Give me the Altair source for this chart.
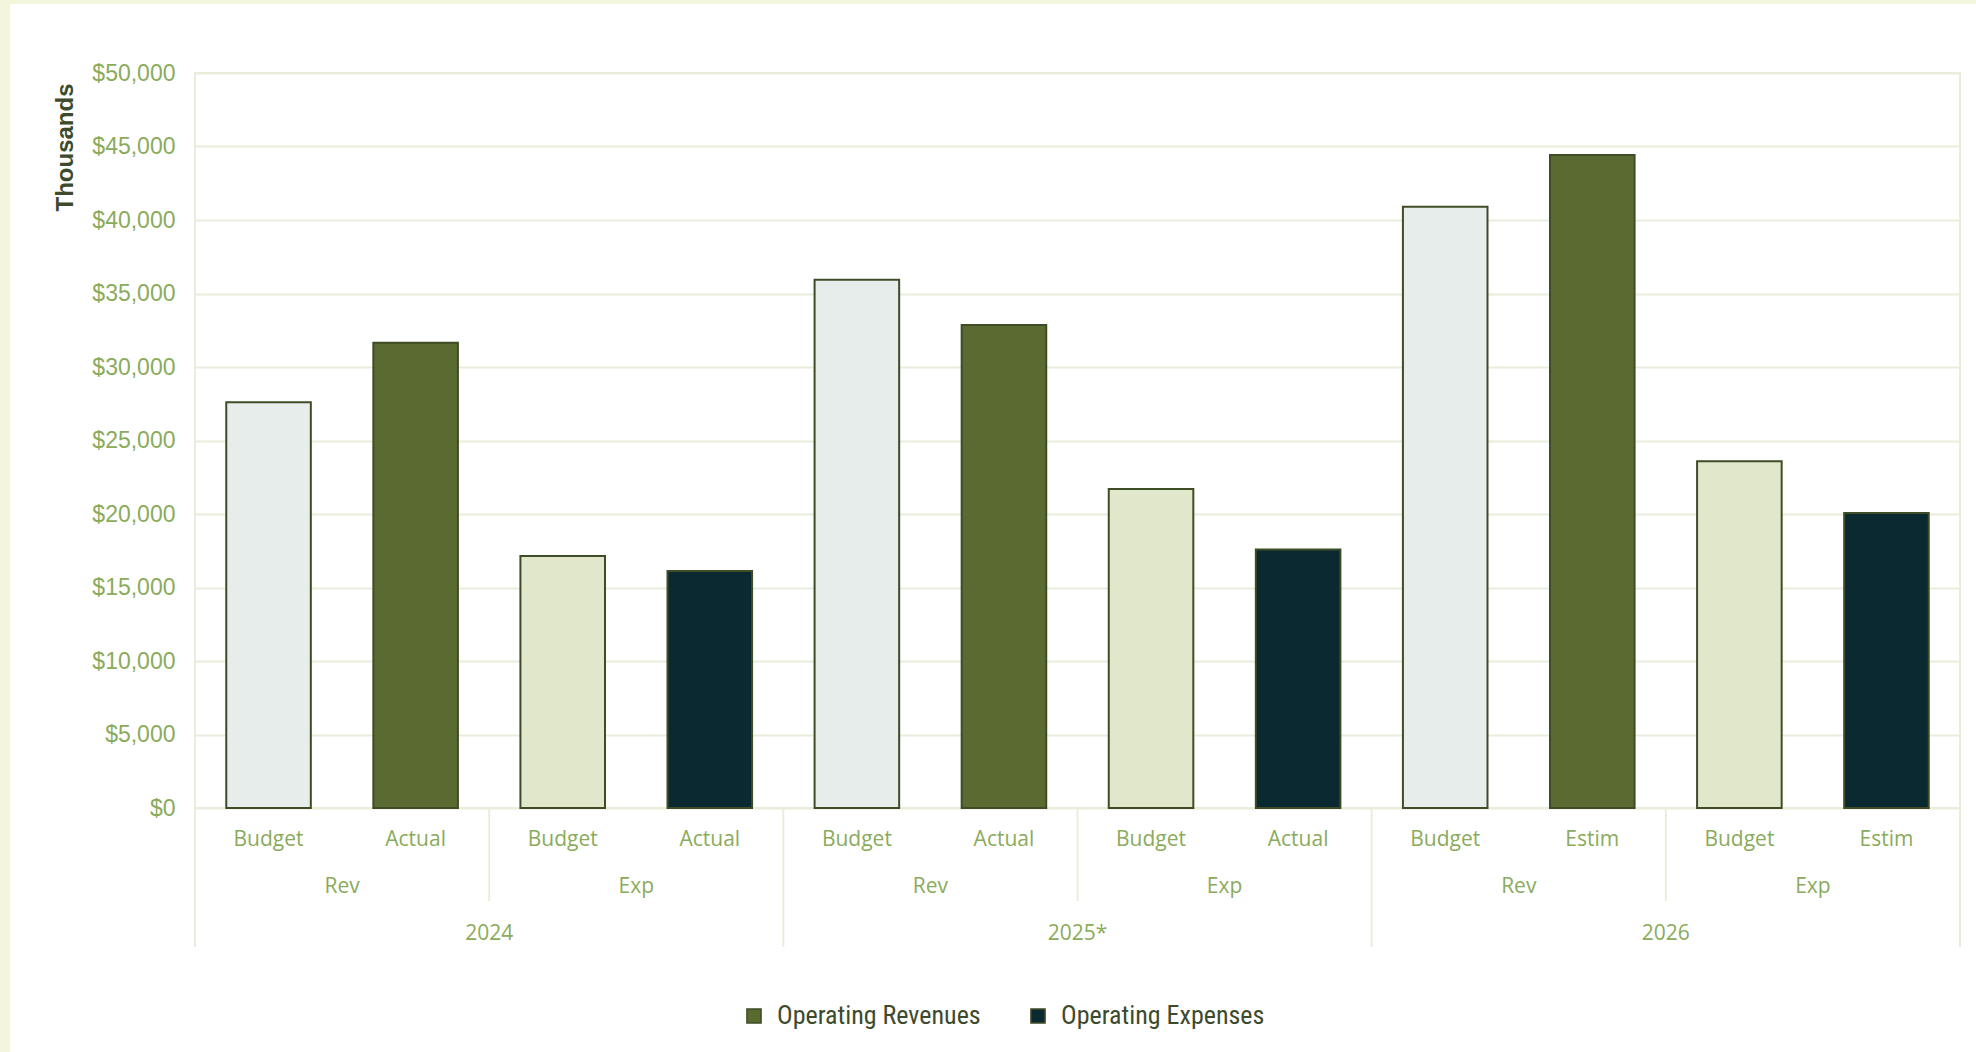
import altair as alt
import pandas as pd

# ---- data ----
years = ["2024", "2025*", "2026"]
groups = ["Rev", "Exp"]
subs_by_year = {
    "2024": ["Budget", "Actual"],
    "2025*": ["Budget", "Actual"],
    "2026": ["Budget", "Estim"],
}
rev_budget = [27600, 35930, 40900]
rev_actual = [31650, 32850, 44430]
exp_budget = [17150, 21700, 23580]
exp_actual = [16120, 17580, 20070]
series_names = ["Operating Revenues", "Operating Expenses"]

rows = []
for i, y in enumerate(years):
    s = subs_by_year[y]
    vals = {"Rev": [rev_budget[i], rev_actual[i]], "Exp": [exp_budget[i], exp_actual[i]]}
    for g in groups:
        for j, sub in enumerate(s):
            rows.append({
                "key": f"{y}|{g}|{sub}",
                "year": y,
                "group": g,
                "sub": sub,
                "value": vals[g][j],
                "series": series_names[0] if g == "Rev" else series_names[1],
            })
df = pd.DataFrame(rows)
keys = list(df["key"])

lvl2 = pd.DataFrame([{"key": f"{y}|{g}|{subs_by_year[y][0]}", "label": g} for y in years for g in groups])
lvl3 = pd.DataFrame([{"key": f"{y}|Rev|{subs_by_year[y][1]}", "label": y} for y in years])
sep_short = pd.DataFrame([{"key": f"{y}|Exp|Budget"} for y in years])
sep_long = pd.DataFrame([{"key": f"{y}|Rev|Budget"} for y in years])
sep_end = pd.DataFrame([{"key": keys[-1]}])

# ---- style ----
W, H = 1765, 735
GRID = "#e9eedc"
LABEL = "#8aab5b"
DARK = "#3d4a2b"
STROKE = "#3f4d26"
xscale = alt.Scale(domain=keys, paddingInner=0, paddingOuter=0)

bars = alt.Chart(df).mark_bar(
    width=alt.RelativeBandSize(0.575), stroke=STROKE, strokeWidth=2
).encode(
    x=alt.X("key:N", scale=xscale, sort=keys,
            axis=alt.Axis(labels=False, ticks=False, domain=False, grid=True,
                          bandPosition=0, gridColor=GRID, gridWidth=2, title=None)),
    y=alt.Y("value:Q", scale=alt.Scale(domain=[0, 50000], nice=False),
            axis=alt.Axis(values=list(range(0, 50001, 5000)), format="$,.0f",
                          labelFont="Liberation Sans", labelFontSize=23, labelColor=LABEL,
                          labelPadding=20, ticks=False, domain=False,
                          gridColor=GRID, gridWidth=2,
                          title="Thousands", titleFont="Liberation Sans", titleFontSize=24,
                          titleFontWeight="bold", titleColor=DARK, titleAngle=270,
                          titleX=-130, titleY=74, titleAlign="center", titleBaseline="middle")),
    fill=alt.Fill(
        "series:N",
        scale=alt.Scale(domain=series_names, range=["#5b6a30", "#0a2930"]),
        legend=alt.Legend(orient="none", legendX=546, legendY=930, direction="horizontal",
                          title=None, symbolType="square", symbolSize=200,
                          symbolStrokeColor=STROKE, symbolStrokeWidth=1.5,
                          labelFont="Liberation Sans Narrow, Roboto Condensed, Roboto",
                          labelFontSize=26, labelColor=DARK, labelLimit=0,
                          columnPadding=44, labelOffset=10),
        condition=[
            {"test": "datum.sub === 'Budget' && datum.group === 'Rev'", "value": "#e6edea"},
            {"test": "datum.sub === 'Budget' && datum.group === 'Exp'", "value": "#e1e7cb"},
        ],
    ),
)

txt_kw = dict(font="Open Sans", fontSize=21, color=LABEL, baseline="middle", align="center")

lab1 = alt.Chart(df).mark_text(**txt_kw).encode(
    x=alt.X("key:N", scale=xscale, sort=keys, axis=None),
    y=alt.value(H + 32),
    text="sub:N",
)
lab2 = alt.Chart(lvl2).mark_text(**txt_kw).encode(
    x=alt.X("key:N", scale=xscale, sort=keys, axis=None, bandPosition=1),
    y=alt.value(H + 79),
    text="label:N",
)
lab3 = alt.Chart(lvl3).mark_text(**txt_kw).encode(
    x=alt.X("key:N", scale=xscale, sort=keys, axis=None, bandPosition=1),
    y=alt.value(H + 126),
    text="label:N",
)
rule_kw = dict(color=GRID, strokeWidth=2)
r_short = alt.Chart(sep_short).mark_rule(**rule_kw).encode(
    x=alt.X("key:N", scale=xscale, sort=keys, axis=None, bandPosition=0),
    y=alt.value(H), y2=alt.value(H + 93),
)
r_long = alt.Chart(sep_long).mark_rule(**rule_kw).encode(
    x=alt.X("key:N", scale=xscale, sort=keys, axis=None, bandPosition=0),
    y=alt.value(H), y2=alt.value(H + 139),
)
r_end = alt.Chart(sep_end).mark_rule(**rule_kw).encode(
    x=alt.X("key:N", scale=xscale, sort=keys, axis=None, bandPosition=1),
    y=alt.value(H), y2=alt.value(H + 139),
)

# page frame strips (left and top), cream colour
strip_left = alt.Chart(alt.Data(values=[{}])).mark_rect(color="#f3f6dd").encode(
    x=alt.value(-195), x2=alt.value(-185), y=alt.value(-73), y2=alt.value(H + 244)
)
strip_top = alt.Chart(alt.Data(values=[{}])).mark_rect(color="#f3f6dd").encode(
    x=alt.value(-195), x2=alt.value(W + 16), y=alt.value(-73), y2=alt.value(-69)
)

chart = alt.layer(
    strip_left, strip_top, bars, r_short, r_long, r_end, lab1, lab2, lab3
).properties(
    width=W, height=H, background="white", padding=0
).configure_view(stroke=GRID, strokeWidth=2)

chart.save("out.html", embed_options={"renderer": "svg", "actions": False})
